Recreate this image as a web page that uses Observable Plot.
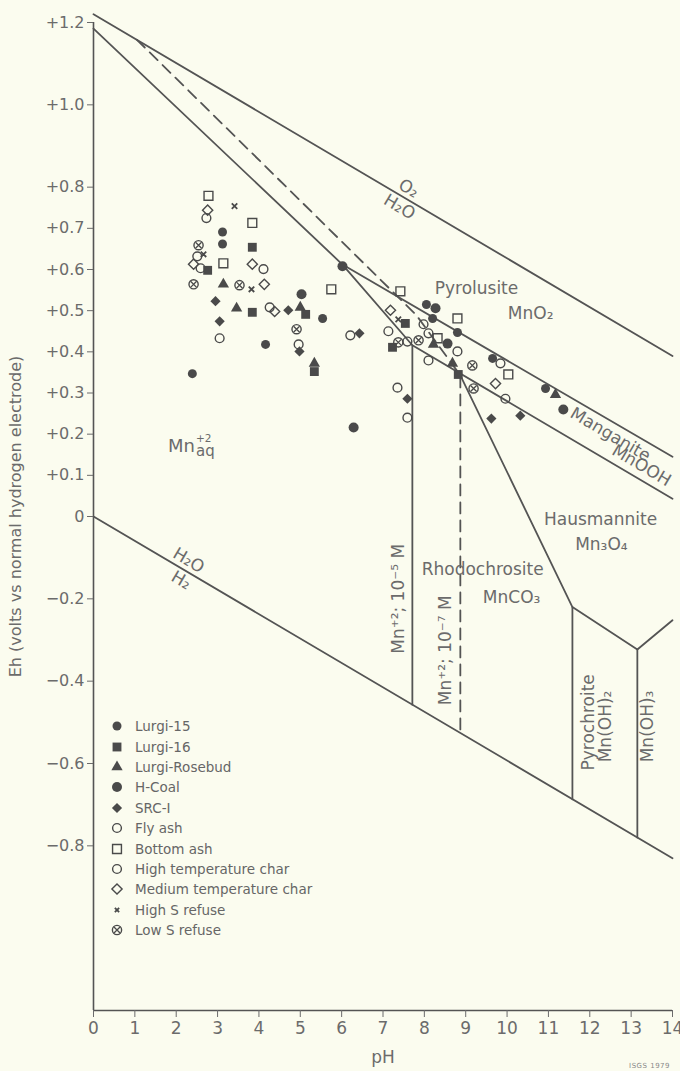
<!DOCTYPE html>
<html>
<head>
<meta charset="utf-8">
<script src="https://cdn.jsdelivr.net/npm/d3@7"></script>
<script src="https://cdn.jsdelivr.net/npm/@observablehq/plot@0.6"></script>
<style>
  html, body { margin: 0; padding: 0; background: #fbfcef; }
  #chart { position: relative; width: 680px; height: 1071px; }
  #legend { position: absolute; left: 108px; top: 716px; font: 13.5px "DejaVu Sans", sans-serif; color: #666; }
  #legend .row { height: 20.4px; display: flex; align-items: center; white-space: nowrap; }
  #legend .row svg { width: 18px; height: 16px; margin-right: 9px; flex: none; }
  #credit { position: absolute; right: 10px; bottom: 1px; font: 7px "DejaVu Sans", sans-serif; color: #888; letter-spacing: 0.5px; }
</style>
</head>
<body>
<div id="chart"><div id="legend"></div><div id="credit">ISGS 1979</div></div>
<script>
// ---- axis ticks ----
const phTicks = [0, 1, 2, 3, 4, 5, 6, 7, 8, 9, 10, 11, 12, 13, 14];
const ehTicks = [1.2, 1.0, 0.8, 0.7, 0.6, 0.5, 0.4, 0.3, 0.2, 0.1, 0, -0.2, -0.4, -0.6, -0.8];

// ---- stability-field boundaries, [pH, Eh] vertices ----
const waterUpper = [[0, 1.22], [14, 0.39]];            // O2 / H2O
const waterLower = [[0, 0], [14, -0.83]];              // H2O / H2
const mn2Solid = [[0, 1.185], [6.02, 0.612], [7.71, 0.416], [7.71, -0.457]];   // Mn+2 = 10^-5 M
const mn2Dashed = [[1.05, 1.158], [7.8, 0.49], [8.87, 0.343], [8.87, -0.526]]; // Mn+2 = 10^-7 M
const pyrolusiteEdge = [[6.02, 0.612], [14, 0.145]];   // MnO2 / MnOOH
const manganiteEdge = [[7.71, 0.416], [14, 0.043]];    // MnOOH / lower fields
const hausmanniteEdge = [[8.87, 0.343], [11.58, -0.22], [13.15, -0.323], [14, -0.252]];
const pyrochroiteLeft = [[11.58, -0.22], [11.58, -0.687]];
const pyrochroiteRight = [[13.15, -0.323], [13.15, -0.78]];

// ---- sample measurements, [pH, Eh] ----
const lurgi15 = [[3.12, 0.691], [3.12, 0.662], [5.54, 0.481], [4.16, 0.418], [2.39, 0.347], [8.05, 0.515], [8.20, 0.481], [8.80, 0.447], [9.65, 0.384], [10.93, 0.311]];
const lurgi16 = [[3.84, 0.654], [2.76, 0.598], [3.84, 0.496], [5.13, 0.491], [5.34, 0.352], [7.54, 0.469], [7.23, 0.411], [8.82, 0.345]];
const lurgiRosebud = [[3.14, 0.564], [3.46, 0.506], [5.00, 0.508], [5.34, 0.372], [8.22, 0.418], [8.68, 0.372], [11.17, 0.296]];
const hCoal = [[5.03, 0.540], [6.29, 0.216], [6.02, 0.608], [8.27, 0.506], [8.56, 0.420], [11.36, 0.260]];
const src1 = [[2.95, 0.523], [4.71, 0.501], [3.05, 0.474], [4.98, 0.401], [6.43, 0.445], [10.32, 0.245], [9.62, 0.238], [7.59, 0.286]];
const flyAsh = [[2.51, 0.632], [4.11, 0.601], [3.05, 0.433], [6.21, 0.440], [7.13, 0.450], [7.98, 0.467], [8.80, 0.401], [9.84, 0.372], [7.35, 0.313]];
const bottomAsh = [[2.78, 0.779], [3.84, 0.713], [3.14, 0.615], [5.75, 0.552], [7.42, 0.547], [8.80, 0.481], [8.32, 0.433], [10.03, 0.345]];
const highTempChar = [[2.73, 0.725], [2.59, 0.603], [4.26, 0.508], [4.96, 0.418], [7.59, 0.425], [8.10, 0.445], [8.10, 0.379], [9.96, 0.286], [7.59, 0.240]];
const mediumTempChar = [[2.76, 0.744], [2.42, 0.613], [3.84, 0.613], [4.13, 0.564], [4.38, 0.498], [7.18, 0.501], [9.72, 0.323]];
const highSRefuse = [[3.41, 0.754], [2.66, 0.637], [3.82, 0.552], [7.37, 0.479]];
const lowSRefuse = [[2.54, 0.659], [2.42, 0.564], [3.53, 0.562], [4.91, 0.455], [7.37, 0.423], [7.86, 0.428], [9.16, 0.367], [9.19, 0.311]];

const sampleNames = ["Lurgi-15", "Lurgi-16", "Lurgi-Rosebud", "H-Coal", "SRC-I", "Fly ash", "Bottom ash",
  "High temperature char", "Medium temperature char", "High S refuse", "Low S refuse"];
const sampleSeries = [lurgi15, lurgi16, lurgiRosebud, hCoal, src1, flyAsh, bottomAsh,
  highTempChar, mediumTempChar, highSRefuse, lowSRefuse];

// ---- field labels ----
const fieldLabels = [
  {text: "Pyrolusite", ph: 9.26, eh: 0.554},
  {text: "MnO₂", ph: 10.57, eh: 0.493},
  {text: "Hausmannite", ph: 12.26, eh: -0.008},
  {text: "Mn₃O₄", ph: 12.28, eh: -0.069},
  {text: "Rhodochrosite", ph: 9.41, eh: -0.130},
  {text: "MnCO₃", ph: 10.11, eh: -0.196}
];
// labels that sit just above / just below a sloping boundary
const labelsAboveLine = [
  {text: "O₂", ph: 7.62, eh: 0.768},
  {text: "H₂O", ph: 2.30, eh: -0.136}
];
const labelsBelowLine = [
  {text: "H₂O", ph: 7.40, eh: 0.781},
  {text: "H₂", ph: 2.12, eh: -0.126}
];
const bandLabels = [
  {text: "Manganite", ph: 12.50, eh: 0.199},
  {text: "MnOOH", ph: 13.25, eh: 0.124}
];
const uprightLabels = [
  {text: "Mn⁺²; 10⁻⁵ M", ph: 7.37, eh: -0.20},
  {text: "Mn⁺²; 10⁻⁷ M", ph: 8.51, eh: -0.325},
  {text: "Pyrochroite", ph: 11.96, eh: -0.50},
  {text: "Mn(OH)₂", ph: 12.38, eh: -0.51},
  {text: "Mn(OH)₃", ph: 13.40, eh: -0.51}
];
const aqueousLabel = [{ph: 1.8, eh: 0.17}];

// ---- drawing styles ----
const lineInk = "#545454";
const dotInk = "#4a4a4a";
const textInk = "#6b6b6b";
const font = "DejaVu Sans";

const symbolStyles = [
  {symbol: "circle", filled: true, r: 4.5},
  {symbol: "square", filled: true, r: 5.0},
  {symbol: "triangle", filled: true, r: 4.2},
  {symbol: "circle", filled: true, r: 5.0},
  {symbol: "diamond2", filled: true, r: 4.6},
  {symbol: "circle", filled: false, r: 4.4},
  {symbol: "square", filled: false, r: 5.0},
  {symbol: "circle", filled: false, r: 4.4},
  {symbol: "diamond2", filled: false, r: 4.6},
  {symbol: "times", filled: false, r: 2.6},
  {symbol: "ringtimes", filled: false, r: 4.6}
];

const px = d => d[0], py = d => d[1];
const boundary = (pts, extra = {}) => Plot.line(pts, {x: px, y: py, stroke: lineInk, strokeWidth: 1.8, ...extra});

function sampleMarks(series, st) {
  if (st.symbol === "ringtimes") {
    return [
      Plot.dot(series, {x: px, y: py, symbol: "circle", r: st.r, stroke: dotInk, strokeWidth: 1.4, fill: "none"}),
      Plot.dot(series, {x: px, y: py, symbol: "times", r: st.r * 0.62, stroke: dotInk, strokeWidth: 1.3})
    ];
  }
  if (st.symbol === "times") {
    return [Plot.dot(series, {x: px, y: py, symbol: "times", r: st.r, stroke: dotInk, strokeWidth: 1.8})];
  }
  return [st.filled
    ? Plot.dot(series, {x: px, y: py, symbol: st.symbol, r: st.r, fill: dotInk, stroke: "none"})
    : Plot.dot(series, {x: px, y: py, symbol: st.symbol, r: st.r, fill: "none", stroke: dotInk, strokeWidth: 1.4})];
}

const fmtEh = d => d === 0 ? "0" : (d > 0 ? "+" : "−") + Math.abs(d).toFixed(1);
const slope = 30.5;
const labelText = {x: "ph", y: "eh", text: "text", fontSize: 17, fontFamily: font, fill: textInk};

const chart = Plot.plot({
  width: 680,
  height: 1071,
  marginTop: 22,
  marginBottom: 61,
  marginLeft: 93,
  marginRight: 8,
  style: {background: "transparent", fontFamily: font, color: textInk},
  x: {domain: [0, 14]},
  y: {domain: [-1.2, 1.2]},
  marks: [
    boundary(waterUpper),
    boundary(waterLower),
    boundary(mn2Solid),
    boundary(mn2Dashed, {strokeDasharray: "11,7"}),
    boundary(pyrolusiteEdge),
    boundary(manganiteEdge),
    boundary(hausmanniteEdge),
    boundary(pyrochroiteLeft),
    boundary(pyrochroiteRight),

    Plot.text(fieldLabels, labelText),
    Plot.text(labelsAboveLine, {...labelText, rotate: slope, dy: -12}),
    Plot.text(labelsBelowLine, {...labelText, rotate: slope, dy: 12}),
    Plot.text(bandLabels, {...labelText, rotate: slope}),
    Plot.text(uprightLabels, {...labelText, rotate: -90}),
    Plot.text(aqueousLabel, {x: "ph", y: "eh", text: () => "Mn", textAnchor: "start", fontSize: 18, fontFamily: font, fill: textInk}),
    Plot.text(aqueousLabel, {x: "ph", y: "eh", text: () => "+2", textAnchor: "start", dx: 28, dy: -8, fontSize: 10.5, fontFamily: font, fill: textInk}),
    Plot.text(aqueousLabel, {x: "ph", y: "eh", text: () => "aq", textAnchor: "start", dx: 28, dy: 5, fontSize: 15, fontFamily: font, fill: textInk}),

    ...sampleSeries.flatMap((s, i) => sampleMarks(s, symbolStyles[i])),

    Plot.ruleX([0], {y1: -1.2, y2: 1.2, stroke: lineInk, strokeWidth: 1.6}),
    Plot.ruleY([-1.2], {x1: 0, x2: 14, stroke: lineInk, strokeWidth: 1.6}),
    Plot.axisX({ticks: phTicks, tickFormat: d => String(d), tickSize: 7, tickPadding: 4, fontSize: 17,
      color: textInk, label: "pH", labelAnchor: "center", labelOffset: 52, labelArrow: "none"}),
    Plot.axisY({ticks: ehTicks, tickFormat: fmtEh, tickSize: 6, tickPadding: 3, fontSize: 16,
      color: textInk, label: "Eh (volts vs normal hydrogen electrode)", labelAnchor: "center", labelOffset: 84, labelArrow: "none"})
  ]
});

const host = document.getElementById("chart");
host.insertBefore(chart, host.firstChild);
chart.style.position = "absolute";
chart.style.left = "0";
chart.style.top = "0";

// ---- legend ----
const d3Symbols = {circle: d3.symbolCircle, square: d3.symbolSquare, triangle: d3.symbolTriangle,
  diamond2: d3.symbolDiamond2, times: d3.symbolTimes};
const legend = d3.select("#legend");
sampleNames.forEach((name, i) => {
  const st = symbolStyles[i];
  const row = legend.append("div").attr("class", "row");
  const svg = row.append("svg").attr("viewBox", "-9 -8 18 16");
  const sym = (type, r) => d3.symbol(d3Symbols[type], Math.PI * r * r)();
  if (st.symbol === "ringtimes") {
    svg.append("path").attr("d", sym("circle", st.r)).attr("fill", "none").attr("stroke", dotInk).attr("stroke-width", 1.4);
    svg.append("path").attr("d", sym("times", st.r * 0.62)).attr("fill", "none").attr("stroke", dotInk).attr("stroke-width", 1.3);
  } else if (st.symbol === "times") {
    svg.append("path").attr("d", sym("times", st.r * 0.8)).attr("fill", "none").attr("stroke", dotInk).attr("stroke-width", 1.8);
  } else if (st.filled) {
    svg.append("path").attr("d", sym(st.symbol, st.r)).attr("fill", dotInk);
  } else {
    svg.append("path").attr("d", sym(st.symbol, st.r)).attr("fill", "none").attr("stroke", dotInk).attr("stroke-width", 1.4);
  }
  row.append("span").text(name);
});
</script>
</body>
</html>
